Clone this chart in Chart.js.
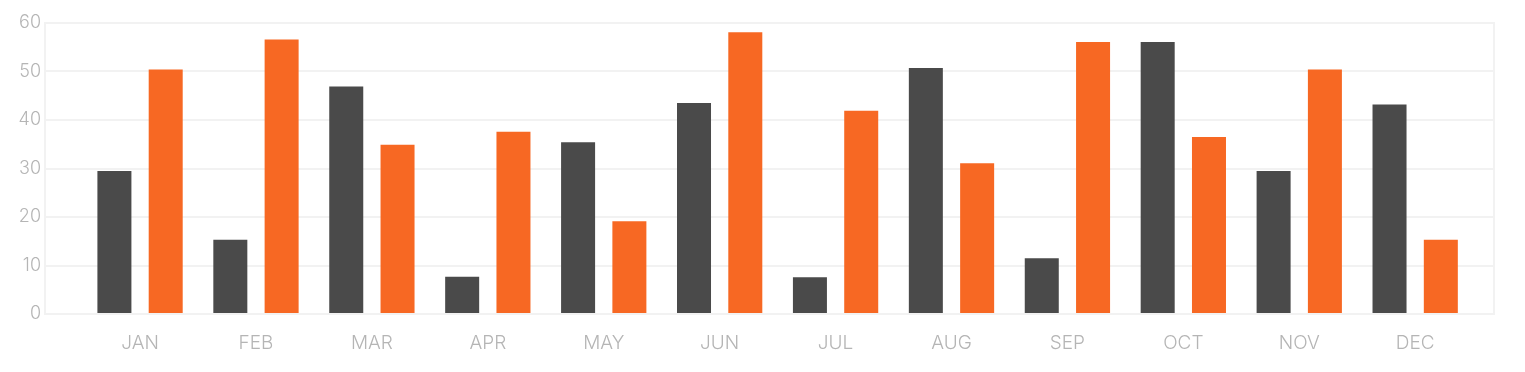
<!DOCTYPE html>
<html>
<head>
<meta charset="utf-8">
<script src="https://cdn.jsdelivr.net/npm/chart.js@4"></script>
<style>
  html, body { margin: 0; padding: 0; background: #fff; }
  #wrap { width: 1525px; height: 372px; }
</style>
</head>
<body>
<div id="wrap"><canvas id="myChart"></canvas></div>
<script>
const months = ['JAN', 'FEB', 'MAR', 'APR', 'MAY', 'JUN', 'JUL', 'AUG', 'SEP', 'OCT', 'NOV', 'DEC'];
const darkValues = [29.5, 15.3, 46.9, 7.7, 35.4, 43.5, 7.6, 50.7, 11.5, 56.1, 29.5, 43.2];
const orangeValues = [50.4, 56.6, 34.9, 37.6, 19.1, 58.1, 41.9, 31.1, 56.1, 36.5, 50.4, 15.3];
const yTicks = [0, 10, 20, 30, 40, 50, 60];

const tickFont = { family: 'Inter, "Open Sans", sans-serif', size: 18, weight: 300 };
const tickColor = '#b5b5b5';
const lineColor = '#f2f2f2';

// x is a linear axis so the left/right margins can be uneven like the original
function toPoints(values) {
  return values.map((v, i) => ({ x: i, y: v }));
}

const ctx = document.getElementById('myChart').getContext('2d');
new Chart(ctx, {
  type: 'bar',
  data: {
    datasets: [{
      label: 'Series 1',
      data: toPoints(darkValues),
      backgroundColor: '#4a4a4a',
      barPercentage: 0.663,
      categoryPercentage: 0.885
    }, {
      label: 'Series 2',
      data: toPoints(orangeValues),
      backgroundColor: '#f76823',
      barPercentage: 0.663,
      categoryPercentage: 0.885
    }]
  },
  options: {
    responsive: true,
    maintainAspectRatio: false,
    animation: false,
    layout: { padding: { top: 23, right: 31, bottom: 0, left: 0 } },
    plugins: {
      legend: { display: false },
      tooltip: { enabled: false }
    },
    scales: {
      x: {
        type: 'linear',
        offset: false,
        min: -0.82,
        max: 11.68,
        grid: { display: false },
        border: { display: true, color: lineColor, width: 2 },
        afterFit: (scale) => { scale.height = 58; },
        afterBuildTicks: (scale) => {
          scale.ticks = months.map((m, i) => ({ value: i }));
        },
        ticks: {
          includeBounds: false,
          stepSize: 1,
          autoSkip: false,
          maxRotation: 0,
          padding: 10,
          color: tickColor,
          font: { family: tickFont.family, size: 19, weight: 300 },
          callback: (value) => months[value]
        }
      },
      y: {
        min: 0,
        max: 60,
        afterFit: (scale) => { scale.width = 45; },
        afterBuildTicks: (scale) => {
          scale.ticks = yTicks.map(v => ({ value: v }));
        },
        grid: { color: lineColor, lineWidth: 2, drawTicks: false },
        border: { display: true, color: lineColor, width: 2 },
        ticks: {
          padding: 4,
          color: tickColor,
          font: tickFont
        }
      },
      yRight: {
        position: 'right',
        min: 0,
        max: 60,
        afterFit: (scale) => { scale.width = 0; },
        grid: { display: false, drawTicks: false },
        border: { display: true, color: lineColor, width: 2 },
        ticks: { display: false }
      }
    }
  }
});
</script>
</body>
</html>
